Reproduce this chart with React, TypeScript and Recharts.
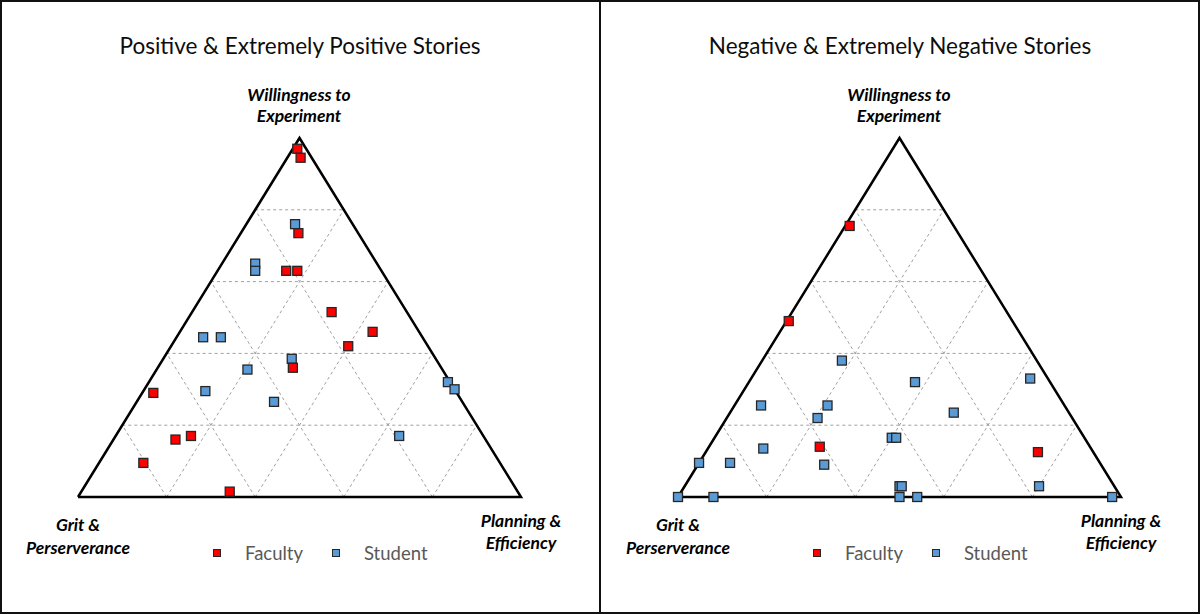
import React from 'react';
import { ScatterChart, Scatter, XAxis, YAxis, ReferenceLine } from 'recharts';

// Ternary compositions in percent: w = Willingness to Experiment, p = Planning & Efficiency, g = Grit & Perserverance
type Comp = { w: number; p: number; g: number };

const positiveFaculty: Comp[] = [
  { w: 97, p: 1, g: 2 },
  { w: 94.5, p: 3, g: 2.5 },
  { w: 73.5, p: 13, g: 13.5 },
  { w: 63, p: 15.5, g: 21.5 },
  { w: 63, p: 18, g: 19 },
  { w: 51.5, p: 31.5, g: 17 },
  { w: 46, p: 43.5, g: 10.5 },
  { w: 42, p: 40, g: 18 },
  { w: 36, p: 30.5, g: 33.5 },
  { w: 29, p: 2.5, g: 68.5 },
  { w: 17, p: 17, g: 66 },
  { w: 16, p: 14, g: 70 },
  { w: 9.5, p: 10, g: 80.5 },
  { w: 1.5, p: 33.5, g: 65 },
];

const positiveStudent: Comp[] = [
  { w: 76, p: 11, g: 13 },
  { w: 65, p: 7.5, g: 27.5 },
  { w: 63, p: 8.5, g: 28.5 },
  { w: 44.5, p: 6, g: 49.5 },
  { w: 44.5, p: 10, g: 45.5 },
  { w: 38.5, p: 29, g: 32.5 },
  { w: 35.5, p: 20.5, g: 44 },
  { w: 29.5, p: 14, g: 56.5 },
  { w: 26.5, p: 31, g: 42.5 },
  { w: 32, p: 67.5, g: 0.5 },
  { w: 30, p: 70, g: 0 },
  { w: 17, p: 64, g: 19 },
];

const negativeFaculty: Comp[] = [
  { w: 75.5, p: 1, g: 23.5 },
  { w: 49, p: 0.5, g: 50.5 },
  { w: 14, p: 25, g: 61 },
  { w: 12.5, p: 75, g: 12.5 },
];

const negativeStudent: Comp[] = [
  { w: 38, p: 18, g: 44 },
  { w: 32, p: 37.5, g: 30.5 },
  { w: 33, p: 63, g: 4 },
  { w: 25.5, p: 6, g: 68.5 },
  { w: 25.5, p: 21, g: 53.5 },
  { w: 22, p: 20.5, g: 57.5 },
  { w: 23.5, p: 50.5, g: 26 },
  { w: 16.5, p: 40, g: 43.5 },
  { w: 16.5, p: 41, g: 42.5 },
  { w: 13.5, p: 12.5, g: 74 },
  { w: 9.5, p: 0, g: 90.5 },
  { w: 9.5, p: 7, g: 83.5 },
  { w: 9, p: 28.5, g: 62.5 },
  { w: 3, p: 48.5, g: 48.5 },
  { w: 3, p: 49, g: 48 },
  { w: 3, p: 80, g: 17 },
  { w: 0, p: 0, g: 100 },
  { w: 0, p: 8, g: 92 },
  { w: 0, p: 50, g: 50 },
  { w: 0, p: 54, g: 46 },
  { w: 0, p: 98, g: 2 },
];

const panelTitles = ['Positive & Extremely Positive Stories', 'Negative & Extremely Negative Stories'];
const seriesNames = ['Faculty', 'Student'];
const seriesColors = ['#FF0000', '#5B9BD5'];
const topLabel = ['Willingness to', 'Experiment'];
const leftLabel = ['Grit &', 'Perserverance'];
const rightLabel = ['Planning &', 'Efficiency'];
const gridSteps = [0.2, 0.4, 0.6, 0.8];
const cornerComps: Comp[] = [
  { w: 0, p: 0, g: 100 },
  { w: 100, p: 0, g: 0 },
  { w: 0, p: 100, g: 0 },
  { w: 0, p: 0, g: 100 },
];

const FONT = 'Lato, "Open Sans", sans-serif';

function toXY(c: Comp) {
  const s = c.w + c.p + c.g;
  const w = c.w / s;
  const p = c.p / s;
  return { x: p + w / 2, y: w };
}

const makeSquare = (color: string, size: number) => (props: any) => {
  const { cx, cy } = props;
  if (cx == null || cy == null) return <g />;
  return (
    <rect
      x={cx - size / 2}
      y={cy - size / 2}
      width={size}
      height={size}
      fill={color}
      stroke="#262626"
      strokeWidth={1.3}
    />
  );
};

const gridSegments = gridSteps.flatMap((k) => [
  [{ x: k / 2, y: k }, { x: 1 - k / 2, y: k }],
  [{ x: k, y: 0 }, { x: k + (1 - k) / 2, y: 1 - k }],
  [{ x: 1 - k, y: 0 }, { x: (1 - k) / 2, y: 1 - k }],
]);

const textBase: React.CSSProperties = {
  position: 'absolute',
  transform: 'translate(-50%, -50%)',
  whiteSpace: 'nowrap',
  lineHeight: 1,
  fontFamily: FONT,
};

function TwoLine({ lines, cx, cy1, cy2 }: { lines: string[]; cx: number; cy1: number; cy2: number }) {
  const st: React.CSSProperties = { ...textBase, fontWeight: 700, fontStyle: 'italic', fontSize: 17.5, color: '#000' };
  return (
    <>
      <div style={{ ...st, left: cx, top: cy1 }}>{lines[0]}</div>
      <div style={{ ...st, left: cx, top: cy2 }}>{lines[1]}</div>
    </>
  );
}

function Panel({
  title,
  faculty,
  student,
  legendX,
}: {
  title: string;
  faculty: Comp[];
  student: Comp[];
  legendX: number[];
}) {
  const fac = faculty.map(toXY);
  const stu = student.map(toXY);
  const outline = cornerComps.map(toXY);
  return (
    <div style={{ position: 'relative', width: 600, height: 614 }}>
      <ScatterChart width={600} height={614} margin={{ top: 138, right: 79, bottom: 117, left: 78 }}>
        <XAxis type="number" dataKey="x" domain={[0, 1]} hide />
        <YAxis type="number" dataKey="y" domain={[0, 1]} hide />
        {gridSegments.map((seg, i) => (
          <ReferenceLine
            key={i}
            segment={seg}
            stroke="#A0A0A0"
            strokeWidth={1}
            strokeDasharray="3 3"
            ifOverflow="visible"
          />
        ))}
        <Scatter
          data={outline}
          line={{ stroke: '#000', strokeWidth: 2.5 }}
          shape={() => <g />}
          isAnimationActive={false}
          legendType="none"
        />
        <Scatter name={seriesNames[1]} data={stu} shape={makeSquare(seriesColors[1], 9)} isAnimationActive={false} />
        <Scatter name={seriesNames[0]} data={fac} shape={makeSquare(seriesColors[0], 9)} isAnimationActive={false} />
      </ScatterChart>
      <div style={{ ...textBase, left: 300, top: 46, fontSize: 22.5, color: '#0d0d0d' }}>{title}</div>
      <TwoLine lines={topLabel} cx={299} cy1={95} cy2={116} />
      <TwoLine lines={leftLabel} cx={78} cy1={525} cy2={548} />
      <TwoLine lines={rightLabel} cx={521} cy1={521} cy2={543} />
      {seriesNames.map((n, i) => (
        <React.Fragment key={n}>
          <div
            style={{
              position: 'absolute',
              left: legendX[i] - 4,
              top: 549,
              width: 8,
              height: 8,
              boxSizing: 'border-box',
              background: seriesColors[i],
              border: '1.3px solid #262626',
            }}
          />
          <div
            style={{
              ...textBase,
              transform: 'translate(0, -50%)',
              left: legendX[i] + 28,
              top: 553,
              fontSize: 18.5,
              color: '#595959',
            }}
          >
            {n}
          </div>
        </React.Fragment>
      ))}
    </div>
  );
}

export default function App() {
  return (
    <div
      style={{
        position: 'absolute',
        top: 0,
        left: 0,
        width: 1200,
        height: 614,
        background: '#fff',
        overflow: 'hidden',
      }}
    >
      <div style={{ position: 'absolute', left: 0, top: 0, display: 'flex' }}>
        <Panel title={panelTitles[0]} faculty={positiveFaculty} student={positiveStudent} legendX={[217, 336]} />
        <Panel title={panelTitles[1]} faculty={negativeFaculty} student={negativeStudent} legendX={[217, 336]} />
      </div>
      <div
        style={{
          position: 'absolute',
          left: 0,
          top: 0,
          width: 1200,
          height: 614,
          boxSizing: 'border-box',
          border: '2px solid #111',
          pointerEvents: 'none',
        }}
      />
      <div style={{ position: 'absolute', left: 599, top: 0, width: 2, height: 614, background: '#111' }} />
    </div>
  );
}
